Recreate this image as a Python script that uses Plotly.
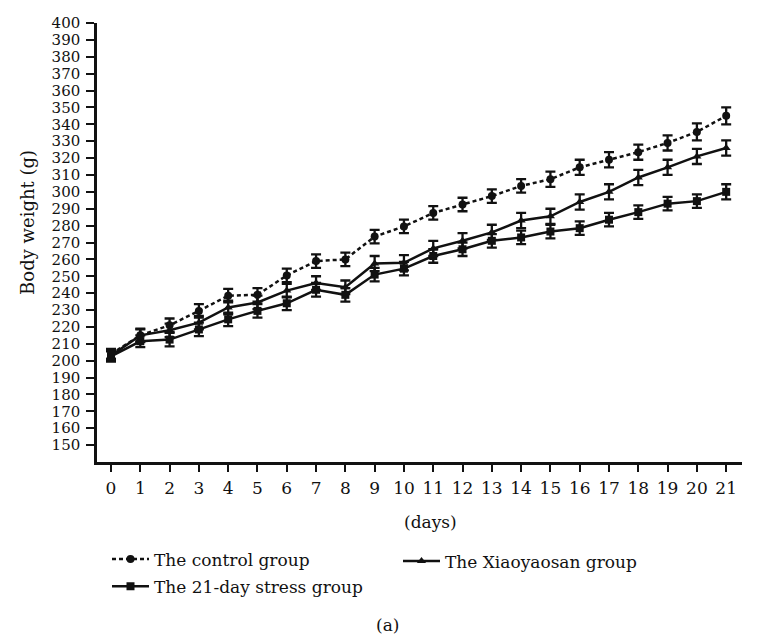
import plotly.graph_objects as go

days = [0, 1, 2, 3, 4, 5, 6, 7, 8, 9, 10, 11, 12, 13, 14, 15, 16, 17, 18, 19, 20, 21]

control = [204, 215, 221, 229.5, 238.5, 239, 250.5, 259, 260, 273.5, 279.5, 287.5,
           292.5, 297.5, 303.5, 307.5, 314.5, 319, 323.5, 329, 335.5, 345]
control_err = [3, 3.5, 4, 4, 4, 4, 4, 4, 4, 4, 4, 4, 4, 4, 4, 4.5, 4.5, 4.5, 4.5, 4.5, 5, 5]

xiaoyaosan = [203, 215, 218, 222.5, 231.5, 234.5, 241.5, 246, 243.5, 257.5, 258, 266.5,
              271, 276, 283, 285.5, 294, 300, 308.5, 314.5, 321, 326]
xiaoyaosan_err = [3, 4, 4, 4, 4, 4, 4, 4, 4, 4.5, 4.5, 4.5, 4.5, 4.5, 4.5, 4.5, 4.5, 4.5, 4.5, 4.5, 4.5, 4.5]

stress = [202.5, 211.5, 212.5, 218.5, 224.5, 229.5, 234, 242, 239, 251, 254.5, 262,
          266, 271, 273, 276.5, 278.5, 283.5, 288, 293, 294.5, 300]
stress_err = [3, 3.5, 4, 4, 4, 4, 4, 4, 4, 4, 4, 4, 4, 4, 4, 4, 4, 4, 4, 4, 4, 4.5]

y_ticks = [150, 160, 170, 180, 190, 200, 210, 220, 230, 240, 250, 260, 270,
           280, 290, 300, 310, 320, 330, 340, 350, 360, 370, 380, 390, 400]
x_ticks = days

FONT = "DejaVu Serif"
BLACK = "#111111"

fig = go.Figure()

def add(name, y, err, symbol, dash, legend):
    fig.add_trace(go.Scatter(
        x=days, y=y, name=name, mode="lines+markers",
        line=dict(color=BLACK, width=2.5, dash=dash),
        marker=dict(symbol=symbol, size=8, color=BLACK),
        error_y=dict(type="data", array=err, visible=True, color=BLACK,
                     thickness=2.3, width=5),
        legend=legend,
    ))

add("The 21-day stress group", stress, stress_err, "square", "solid", "legend3")
add("The Xiaoyaosan group", xiaoyaosan, xiaoyaosan_err, "triangle-up", "solid", "legend2")
add("The control group", control, control_err, "circle", "4px,3px", "legend")

# page body has an 8px margin, so the figure is sized to fit inside 760x640
W, H = 752, 632
L, R, T, B = 89, 18, 6, 178
pw, ph = W - L - R, H - T - B

def px(x):
    return (x - L) / pw

def py(y):
    return (H - B - y) / ph

def leg(x, y):
    return dict(x=px(x), y=py(y), xanchor="left", yanchor="top",
                orientation="h", itemwidth=37,
                font=dict(family=FONT, size=17, color=BLACK),
                bgcolor="rgba(0,0,0,0)")

fig.update_layout(
    width=W, height=H,
    margin=dict(l=L, r=R, t=T, b=B),
    paper_bgcolor="white", plot_bgcolor="white",
    font=dict(family=FONT, size=17, color=BLACK),
    showlegend=True,
    legend=leg(99, 535),
    legend2=leg(390, 537),
    legend3=leg(99, 563),
    xaxis=dict(
        range=[-0.478, 21.54], tickmode="array", tickvals=x_ticks,
        ticktext=[str(d) for d in x_ticks],
        showline=True, linecolor=BLACK, linewidth=2.5,
        ticks="outside", ticklen=7, tickwidth=2, tickcolor=BLACK,
        showgrid=False, zeroline=False, ticklabelstandoff=2,
        tickfont=dict(family=FONT, size=17, color=BLACK),
    ),
    yaxis=dict(
        range=[140, 400], tickmode="array", tickvals=y_ticks,
        ticktext=[str(v) for v in y_ticks],
        showline=True, linecolor=BLACK, linewidth=2.5,
        ticks="outside", ticklen=8, tickwidth=2, tickcolor=BLACK,
        showgrid=False, zeroline=False, ticklabelstandoff=3,
        ticklabeloverflow="allow",
        tickfont=dict(family=FONT, size=15, color=BLACK),
    ),
    annotations=[
        dict(text="Body weight (g)", x=px(20), y=py(210), xref="paper", yref="paper",
             xanchor="center", yanchor="middle",
             showarrow=False, textangle=-90, font=dict(family=FONT, size=18, color=BLACK)),
        dict(text="(days)", x=px(422), y=py(515), xref="paper", yref="paper",
             xanchor="center", yanchor="middle",
             showarrow=False, font=dict(family=FONT, size=17, color=BLACK)),
        dict(text="(a)", x=px(379), y=py(620), xref="paper", yref="paper",
             xanchor="center", yanchor="middle",
             showarrow=False, font=dict(family=FONT, size=17, color=BLACK)),
    ],
)

fig.write_html("out.html")
